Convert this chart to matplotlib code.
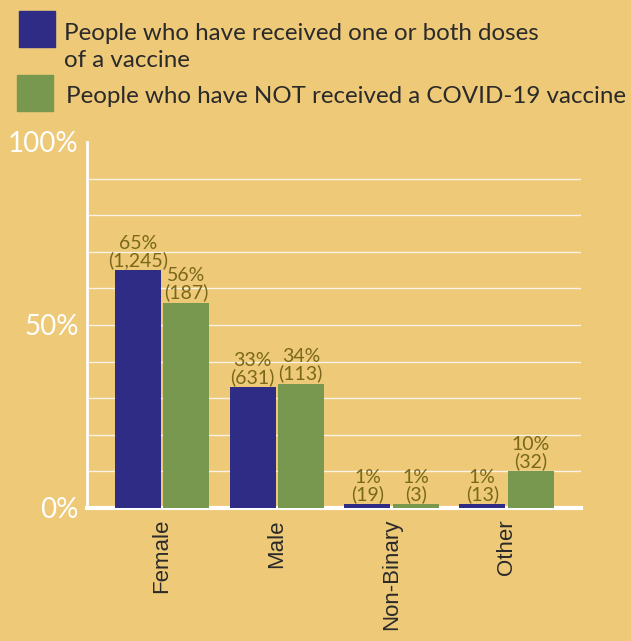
import numpy as np
import matplotlib
matplotlib.use("Agg")
import matplotlib.pyplot as plt
from matplotlib.patches import Rectangle

# Data
categories = ["Female", "Male", "Non-Binary", "Other"]
vaccinated_pct = [65, 33, 1, 1]
vaccinated_n = ["1,245", "631", "19", "13"]
unvaccinated_pct = [56, 34, 1, 10]
unvaccinated_n = ["187", "113", "3", "32"]
legend_labels = ["People who have received one or both doses\nof a vaccine",
                 "People who have NOT received a COVID-19 vaccine"]

bg = "#edc978"
blue = "#2e2c85"
green = "#789850"
label_col = "#7a681a"
text_col = "#2a2a2a"

plt.rcParams['font.family'] = ['Lato', 'DejaVu Sans']

fig = plt.figure(figsize=(6.31, 6.41), dpi=100, facecolor=bg)
ax = fig.add_axes([0.138, 0.2075, 0.783, 0.571])
ax.set_facecolor(bg)

x = np.arange(len(categories))
w = 0.4
off = 0.21
b1 = ax.bar(x - off, vaccinated_pct, w, color=blue, zorder=3)
b2 = ax.bar(x + off, unvaccinated_pct, w, color=green, zorder=3)

for bars, pct, n in [(b1, vaccinated_pct, vaccinated_n), (b2, unvaccinated_pct, unvaccinated_n)]:
    for rect, p, c in zip(bars, pct, n):
        ax.annotate(f"{p}%\n({c})", (rect.get_x() + rect.get_width() / 2, rect.get_height()),
                    xytext=(0, 1), textcoords="offset points", ha="center", va="bottom",
                    fontsize=14, color=label_col, linespacing=0.95, zorder=4)

ax.set_xlim(-0.65, 3.65)
ax.set_ylim(0, 100)
for yv in range(10, 100, 10):
    ax.axhline(yv, color="white", lw=1, alpha=0.8, zorder=1)

ax.set_yticks([0, 50, 100])
ax.set_yticklabels(["0%", "50%", "100%"], color="white", fontsize=20)
ax.set_xticks(x)
ax.set_xticklabels(categories, rotation=90, color=text_col, fontsize=16,
                   family=["Liberation Sans", "DejaVu Sans"])
ax.tick_params(axis="x", length=0, pad=8)
ax.tick_params(axis="y", length=0, pad=6)

for s in ["top", "right"]:
    ax.spines[s].set_visible(False)
ax.spines["left"].set_color("white")
ax.spines["left"].set_linewidth(2)
ax.spines["bottom"].set_color("white")
ax.spines["bottom"].set_linewidth(3)

# Legend drawn in figure coordinates
W, H = 631, 641
fig.patches.append(Rectangle((19 / W, 1 - 47 / H), 36 / W, 36 / H, transform=fig.transFigure,
                             color=blue, figure=fig))
fig.patches.append(Rectangle((17 / W, 1 - 111 / H), 36 / W, 36 / H, transform=fig.transFigure,
                             color=green, figure=fig))
for i, line in enumerate(legend_labels[0].split("\n")):
    fig.text(64 / W, 1 - (40 + 27 * i) / H, line, fontsize=17.4, color=text_col,
             va="baseline", ha="left")
fig.text(66 / W, 1 - 103 / H, legend_labels[1], fontsize=17.4, color=text_col,
         va="baseline", ha="left")

fig.savefig("out.png", dpi=100, facecolor=bg)
